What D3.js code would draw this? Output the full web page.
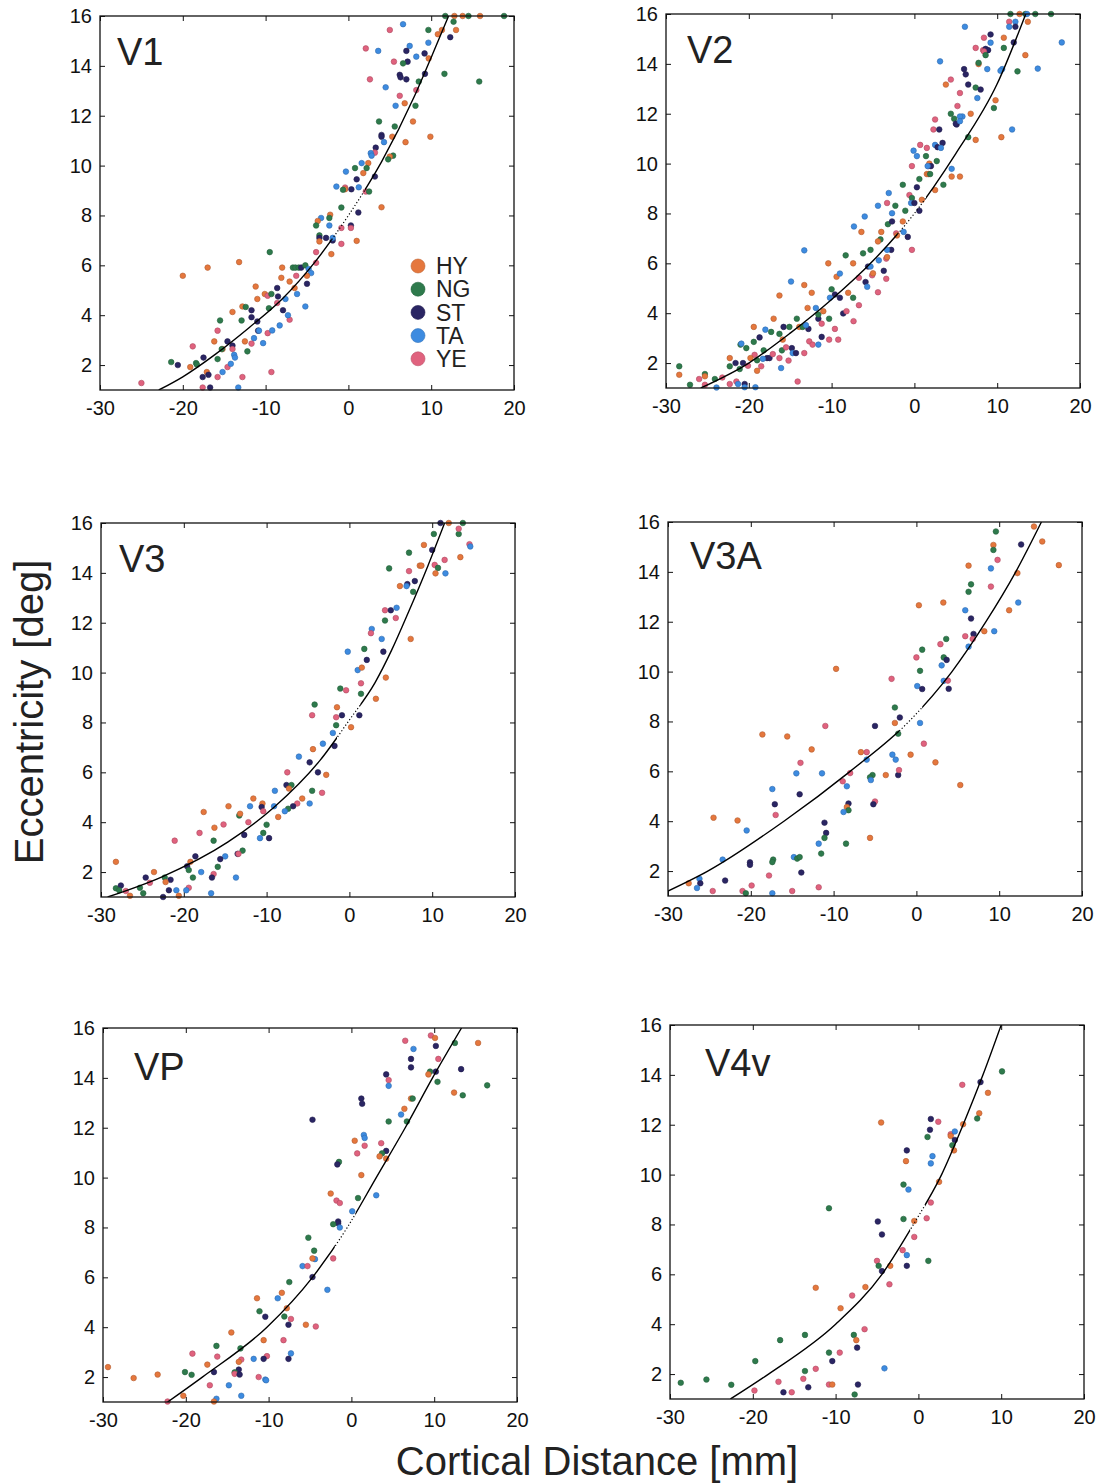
<!DOCTYPE html>
<html>
<head>
<meta charset="utf-8">
<script src="https://cdn.jsdelivr.net/npm/d3@7"></script>
<style>
  html, body { margin: 0; padding: 0; background: #fff; }
  svg { display: block; font-family: "Liberation Sans", Arial, Helvetica, sans-serif; }
</style>
</head>
<body>
<svg id="chart" width="1105" height="1484"></svg>
<script>
// Subjects and their marker colours
const HY = "HY", NG = "NG", ST = "ST", TA = "TA", YE = "YE";
const subjects = [HY, NG, ST, TA, YE];
const subjectColors = ["#e5773d", "#2e7a4c", "#2a2563", "#3d8be0", "#e0627e"];

// Axis ticks shared by every panel
const xTicks = [-30, -20, -10, 0, 10, 20];
const yTicks = [2, 4, 6, 8, 10, 12, 14, 16];
const xDomain = [-30, 20];
const yDomain = [1, 16];

// ---- V1 ----  [cortical distance (mm), eccentricity (deg), subject]
const v1Points = [
  [11.7,16,NG],[12.8,16,HY],[13.8,16,HY],[14.5,16,NG],[15.9,16,HY],[18.8,16,NG],
  [12.7,15.77,NG],[5.0,15.44,YE],[9.66,15.44,NG],[10.8,15.27,HY],[11.3,15.44,HY],[13.0,15.44,HY],[6.6,15.67,TA],
  [12.3,15.15,ST],[9.66,14.93,TA],[2.1,14.7,YE],[3.6,14.6,TA],[7.4,14.8,TA],[7.0,14.6,ST],[9.2,14.5,ST],
  [9.7,14.3,HY],[8.2,14.37,TA],[7.15,14.17,ST],[6.6,14.1,NG],[5.5,14.17,YE],
  [6.2,13.64,ST],[6.3,13.54,ST],[7.0,13.46,ST],[2.6,13.46,YE],[11.6,13.68,NG],[9.25,13.68,ST],[8.5,13.37,NG],
  [15.8,13.37,NG],[4.5,13.14,TA],[8.2,13.03,YE],[6.2,12.8,YE],[6.8,12.5,HY],[8.1,12.4,NG],[5.7,12.4,TA],
  [7.8,11.77,HY],[3.7,11.77,NG],[5.6,11.57,NG],[4.0,11.23,ST],[4.0,11.16,ST],[5.3,11.16,HY],[9.9,11.16,HY],
  [4.3,10.94,TA],[6.9,10.94,HY],[3.3,10.72,ST],[3.2,10.52,YE],[2.7,10.5,TA],[2.8,10.4,TA],[5.4,10.4,NG],
  [5.0,10.36,HY],[4.8,10.25,NG],[2.4,10.1,HY],[1.6,10.1,TA],[0.8,9.9,NG],[1.8,9.7,HY],[2.2,9.9,NG],
  [-0.3,9.76,TA],[3.2,9.56,ST],[1.0,9.45,ST],[-1.45,9.16,TA],[-0.4,9.12,YE],[-0.4,9.05,HY],[-0.65,9.03,NG],
  [1.25,9.13,TA],[0.36,9.05,ST],[2.1,8.96,YE],[2.5,8.96,NG],[4.0,8.33,HY],[-0.85,8.32,NG],[1.2,8.12,ST],
  [-2.2,8.03,HY],[-2.3,7.9,NG],[-3.3,7.9,TA],[-3.7,7.78,HY],[-3.9,7.6,NG],[-2.3,7.6,TA],[-0.85,7.5,YE],
  [0.3,7.6,ST],[0.3,7.5,YE],[1.0,6.98,HY],[-3.5,7.2,NG],[-3.5,7.1,ST],[-2.7,7.1,ST],[-1.9,7.0,ST],[-1.9,7.1,TA],
  [-3.5,6.96,HY],[-0.85,6.86,YE],[-9.5,6.53,NG],[-3.9,6.53,YE],[-2.06,6.45,HY],[-3.9,6.1,YE],[-13.2,6.13,HY],
  [-17.0,5.91,HY],[-20.0,5.58,HY],[-8.0,5.91,HY],[-6.7,5.91,NG],[-6.4,5.91,NG],[-6.0,5.91,NG],[-5.7,5.91,ST],
  [-5.2,6.0,NG],[-4.8,5.85,TA],[-4.5,5.69,TA],[-5.0,5.58,HY],[-6.3,5.58,YE],[-8.1,5.5,HY],[-7.1,5.35,HY],
  [-6.5,5.09,HY],[-5.0,5.26,ST],[-11.2,5.15,HY],[-8.6,5.09,ST],[-6.2,4.85,TA],[-10.1,4.85,HY],[-9.75,4.78,YE],
  [-9.3,4.85,NG],[-8.5,4.75,ST],[-7.6,4.65,TA],[-11.0,4.65,HY],[-8.6,4.49,YE],[-12.8,4.35,HY],[-12.4,4.33,NG],
  [-5.2,4.35,TA],[-9.6,4.28,NG],[-11.7,4.2,ST],[-7.9,4.2,ST],[-14.0,4.13,HY],[-7.1,3.82,YE],[-12.9,3.79,NG],
  [-7.3,4.0,TA],[-11.7,3.92,ST],[-11.0,3.75,ST],[-15.5,3.79,NG],[-8.3,3.59,TA],[-15.8,3.38,YE],[-10.9,3.38,ST],
  [-10.8,3.38,TA],[-9.75,3.28,YE],[-9.2,3.39,TA],[-16.2,2.95,HY],[-12.5,2.95,HY],[-14.6,2.95,ST],[-14.0,2.78,ST],
  [-10.3,2.88,TA],[-11.4,3.08,TA],[-11.7,2.86,YE],[-15.2,2.64,HY],[-15.3,2.64,NG],[-14.0,2.64,YE],[-12.2,2.55,NG],
  [-18.8,2.75,YE],[-15.8,2.24,NG],[-13.8,2.41,TA],[-13.7,2.3,TA],[-17.5,2.3,ST],[-14.6,1.92,YE],[-14.2,2.05,TA],
  [-19.1,1.92,HY],[-18.4,2.08,NG],[-18.3,2.02,NG],[-21.4,2.12,NG],[-20.6,2.0,ST],[-17.1,1.72,HY],[-15.2,1.72,TA],
  [-16.9,1.61,ST],[-17.6,1.52,ST],[-15.8,1.52,YE],[-12.8,1.52,YE],[-9.3,1.72,YE],[-25.0,1.28,YE],[-17.6,1.1,YE],
  [-16.7,1.1,ST],[-13.3,1.1,TA]
];
const v1Fit = [[-22.9,1.0],[-20,1.53],[-16,2.45],[-12,3.5],[-8,4.65],[-4,6.15],[0,8.0],[4,10.15],[8,12.8],[10.2,14.5],[12.1,16]];
const v1Dotted = [-2, 2];

// ---- V2 ----
const v2Points = [
  [11.6,16,NG],[12.7,16,HY],[13.4,16,NG],[13.6,16,TA],[14.6,16,NG],[16.5,16,NG],
  [11.45,15.69,YE],[12.2,15.69,TA],[11.45,15.49,TA],[12.2,15.49,ST],[13.7,15.69,HY],[6.1,15.49,TA],[9.2,15.18,ST],
  [8.4,15.05,YE],[10.8,15.05,HY],[9.2,14.85,TA],[17.8,14.86,TA],[12.0,14.86,ST],[7.4,14.64,YE],[10.8,14.64,NG],
  [8.3,14.55,YE],[8.6,14.6,ST],[8.9,14.55,ST],[8.4,14.5,YE],[8.6,14.35,NG],[13.4,14.35,HY],[3.1,14.1,TA],
  [7.75,13.99,HY],[7.75,14.04,NG],[8.8,13.79,TA],[6.0,13.79,ST],[6.2,13.58,ST],[10.6,13.79,TA],[10.4,13.72,TA],
  [12.45,13.7,NG],[14.9,13.81,TA],[4.4,13.37,YE],[3.8,13.17,HY],[6.5,13.17,ST],[7.4,13.05,NG],[8.0,12.97,ST],
  [5.5,12.83,YE],[7.6,12.63,TA],[9.8,12.54,HY],[5.2,12.31,YE],[9.6,12.23,NG],[2.5,11.77,YE],[6.8,12.0,HY],
  [4.4,12.0,NG],[5.8,11.89,TA],[5.5,11.89,TA],[4.8,11.8,NG],[5.1,11.57,ST],[5.0,11.6,ST],[5.5,11.7,TA],
  [2.3,11.37,YE],[3.0,11.37,ST],[11.8,11.37,TA],[6.5,11.06,NG],[7.4,10.95,HY],[10.5,11.06,HY],[3.4,10.83,ST],
  [2.5,10.75,TA],[2.8,10.66,ST],[3.2,10.63,TA],[0.7,10.75,YE],[-0.1,10.52,TA],[1.5,10.63,YE],[0.3,10.3,TA],
  [1.4,10.3,NG],[1.7,9.9,YE],[1.8,10.0,HY],[2.0,9.9,ST],[-0.3,9.9,YE],[2.7,10.1,NG],[4.5,9.79,TA],[4.5,9.48,HY],
  [5.5,9.48,HY],[3.5,9.15,NG],[0.3,9.05,ST],[-1.4,9.15,NG],[0.6,9.38,NG],[1.5,9.58,HY],[1.7,9.58,HY],[1.6,9.9,TA],
  [1.9,9.58,NG],[2.5,8.94,HY],[-3.1,8.82,TA],[-0.6,8.74,YE],[-0.3,8.62,NG],[0.9,8.55,HY],[-0.4,8.42,TA],
  [0.0,8.42,ST],[-4.4,8.31,TA],[-3.3,8.42,YE],[-2.3,8.31,NG],[-1.1,8.11,NG],[0.6,8.11,ST],[-2.7,8.01,TA],
  [-6.0,7.88,TA],[-7.3,7.48,TA],[-3.2,7.57,NG],[-2.7,7.68,ST],[-1.4,7.68,HY],[-6.4,7.26,HY],[-4.0,7.26,HY],
  [-2.2,7.2,YE],[-2.1,7.12,HY],[-1.3,7.26,TA],[-0.8,7.06,ST],[-4.1,6.96,NG],[-4.4,6.88,HY],[-0.3,6.54,YE],
  [-13.3,6.52,TA],[-2.8,6.54,ST],[-3.3,6.54,TA],[-5.3,6.54,NG],[-6.2,6.4,NG],[-3.4,6.19,YE],[-3.3,6.25,HY],
  [-8.3,6.32,NG],[-7.4,6.0,HY],[-10.4,6.0,HY],[-4.3,6.12,TA],[-5.6,5.87,ST],[-5.3,5.87,TA],[-3.7,5.7,ST],
  [-3.4,5.38,YE],[-5.1,5.52,YE],[-5.0,5.6,HY],[-9.4,5.46,HY],[-9.0,5.59,TA],[-14.9,5.27,TA],[-13.3,5.13,HY],
  [-6.7,5.42,YE],[-5.9,5.25,ST],[-5.7,5.06,TA],[-12.4,4.82,HY],[-10.0,4.96,NG],[-9.6,4.75,ST],[-10.2,4.62,TA],
  [-9.0,4.62,ST],[-8.0,4.82,HY],[-7.4,4.62,NG],[-4.4,4.84,YE],[-16.3,4.71,HY],[-12.9,4.21,HY],[-11.9,4.21,TA],
  [-6.7,4.32,YE],[-8.6,3.99,ST],[-8.2,4.08,YE],[-11.6,3.78,ST],[-11.6,3.95,NG],[-11.0,4.08,HY],[-10.3,3.78,NG],
  [-11.2,3.58,YE],[-14.2,3.78,NG],[-17.0,3.78,HY],[-19.4,3.45,HY],[-18.0,3.34,TA],[-17.3,3.25,NG],[-13.9,3.45,HY],
  [-13.5,3.45,NG],[-15.8,3.45,ST],[-15.1,3.45,NG],[-12.8,3.37,ST],[-13.1,3.52,TA],[-7.35,3.68,YE],[-18.7,3.03,ST],
  [-16.3,3.17,NG],[-9.6,3.37,YE],[-9.2,2.94,YE],[-10.3,2.94,YE],[-11.2,3.05,ST],[-21.0,2.74,NG],[-20.9,2.78,TA],
  [-20.3,2.6,NG],[-19.4,2.85,NG],[-15.9,2.94,HY],[-12.7,2.87,YE],[-12.3,2.74,YE],[-11.6,2.74,TA],[-14.8,2.6,ST],
  [-16.0,2.51,NG],[-15.5,2.63,YE],[-14.7,2.4,TA],[-14.3,2.4,ST],[-13.3,2.4,YE],[-18.2,2.51,NG],[-19.3,2.33,YE],
  [-17.8,2.2,ST],[-17.5,2.2,ST],[-18.3,2.17,TA],[-17.1,2.36,YE],[-21.6,2.0,ST],[-20.7,2.0,ST],[-19.8,2.2,HY],
  [-19.0,2.11,NG],[-22.3,2.2,HY],[-22.3,1.87,NG],[-20.1,1.89,YE],[-18.5,1.87,YE],[-21.1,1.76,NG],[-19.0,1.69,HY],
  [-16.3,2.2,YE],[-15.2,2.1,YE],[-16.1,1.8,TA],[-28.4,1.87,NG],[-28.4,1.53,HY],[-25.3,1.56,NG],[-25.3,1.47,HY],
  [-26.0,1.36,YE],[-24.1,1.36,NG],[-23.2,1.42,YE],[-27.1,1.13,NG],[-25.3,1.13,YE],[-22.3,1.16,YE],[-21.5,1.26,YE],
  [-21.3,1.16,TA],[-20.5,1.16,ST],[-20.5,1.03,TA],[-19.2,1.03,TA],[-23.9,1.02,TA],[-14.1,1.26,YE]
];
const v2Fit = [[-25.8,1.0],[-20,2.0],[-15,3.2],[-10,4.55],[-5,6.1],[0,8.0],[5,10.4],[10,13.2],[13.45,16]];
const v2Dotted = [-2, 1.4];

// ---- V3 ----
const v3Points = [
  [11.0,16,ST],[12.0,16,HY],[13.7,16,NG],[10.2,15.56,NG],[13.2,15.56,NG],[13.2,15.77,YE],[9.0,15.12,HY],
  [10.0,14.92,ST],[14.5,15.15,YE],[14.6,15.06,TA],[7.2,14.81,NG],[11.5,14.52,YE],[13.4,14.63,HY],[4.8,14.18,NG],
  [10.3,14.32,YE],[10.7,14.2,NG],[7.2,14.07,YE],[8.5,14.29,HY],[8.7,14.29,HY],[10.4,13.98,HY],[11.6,13.98,TA],
  [7.9,13.67,ST],[7.0,13.55,ST],[6.9,13.47,TA],[6.1,13.47,HY],[7.7,13.24,NG],[4.3,12.5,YE],[5.0,12.5,ST],
  [5.7,12.6,TA],[5.6,12.19,YE],[4.3,12.09,NG],[2.7,11.75,TA],[2.6,11.58,YE],[7.4,11.35,HY],[3.9,11.35,TA],
  [4.1,10.84,ST],[1.8,10.95,NG],[-0.2,10.84,TA],[2.1,10.51,ST],[1.0,10.1,TA],[1.5,10.2,HY],[4.4,9.8,HY],
  [1.4,9.57,YE],[-1.1,9.36,NG],[-0.4,9.29,YE],[1.4,9.15,NG],[3.2,8.95,HY],[-4.2,8.72,NG],[-1.5,8.61,HY],
  [-0.9,8.29,ST],[-1.6,8.21,YE],[1.2,8.29,ST],[-4.5,8.29,YE],[-1.6,7.89,NG],[0.2,7.81,HY],[-2.0,7.58,TA],
  [-3.2,7.15,TA],[-1.8,7.06,ST],[-4.4,6.93,HY],[-6.1,6.63,TA],[-4.8,6.4,ST],[-7.5,6.0,YE],[-3.8,6.0,ST],
  [-2.8,5.9,HY],[-7.6,5.49,ST],[-7.0,5.49,NG],[-7.3,5.35,HY],[-9.0,5.26,TA],[-4.5,5.26,NG],[-3.3,5.18,YE],
  [-11.6,4.95,HY],[-5.7,4.95,HY],[-6.3,4.75,YE],[-6.8,4.64,ST],[-4.8,4.75,TA],[-10.5,4.75,HY],[-10.6,4.61,ST],
  [-12.0,4.64,TA],[-14.6,4.64,HY],[-9.1,4.64,TA],[-10.4,4.44,YE],[-7.4,4.54,NG],[-7.8,4.44,TA],[-17.6,4.41,HY],
  [-8.6,4.21,HY],[-13.3,4.27,NG],[-13.2,4.34,HY],[-12.2,4.0,YE],[-15.2,3.91,YE],[-10.0,3.9,NG],[-16.3,3.78,HY],
  [-18.1,3.57,YE],[-10.4,3.57,NG],[-12.7,3.49,ST],[-9.7,3.36,ST],[-10.8,3.36,TA],[-21.1,3.26,YE],[-16.4,3.26,NG],
  [-12.9,2.86,NG],[-13.5,2.73,ST],[-13.4,2.73,YE],[-15.0,2.63,TA],[-15.6,2.52,ST],[-18.6,2.63,ST],[-15.9,2.21,NG],
  [-28.2,2.41,HY],[-19.2,2.41,HY],[-19.6,2.23,ST],[-19.4,2.08,NG],[-23.6,2.0,HY],[-17.9,2.0,TA],[-16.4,1.92,YE],
  [-18.9,1.78,NG],[-16.6,1.78,ST],[-22.3,1.78,NG],[-21.6,1.69,ST],[-24.6,1.78,ST],[-13.7,1.78,TA],[-24.1,1.57,YE],
  [-25.3,1.37,NG],[-19.4,1.37,YE],[-22.2,1.6,HY],[-28.2,1.35,NG],[-27.6,1.46,ST],[-27.8,1.27,NG],[-27.0,1.24,YE],
  [-20.9,1.27,TA],[-19.7,1.27,TA],[-21.8,1.27,ST],[-24.9,1.15,NG],[-26.5,1.05,HY],[-20.6,1.05,HY],[-16.7,1.15,TA],
  [-22.5,1.0,ST]
];
const v3Fit = [[-29.2,1.0],[-22.7,1.8],[-14.7,3.2],[-9.1,4.6],[-3.5,6.5],[0,8.1],[3.1,9.6],[5.1,10.9],[7.1,12.4],[9.5,14.3],[11.5,16]];
const v3Dotted = [-1.5, 1.3];

// ---- V3A ----
const v3aPoints = [
  [14.2,15.82,HY],[9.6,15.62,NG],[15.2,15.22,HY],[9.3,15.08,HY],[9.3,14.88,NG],[12.65,15.1,ST],[9.8,14.48,YE],
  [6.3,14.25,HY],[9.0,14.14,TA],[17.2,14.27,HY],[12.2,13.95,HY],[9.0,13.41,YE],[6.6,13.5,NG],[6.3,13.2,NG],
  [0.3,12.66,HY],[3.25,12.77,HY],[12.3,12.77,TA],[5.9,12.46,TA],[11.2,12.46,HY],[6.6,12.13,ST],[9.4,11.62,TA],
  [8.2,11.62,HY],[6.9,11.51,ST],[5.9,11.42,YE],[6.8,11.31,YE],[3.6,11.31,NG],[2.9,11.1,YE],[6.3,11.0,TA],
  [0.7,10.88,NG],[3.3,10.57,NG],[3.65,10.47,ST],[0.0,10.57,YE],[-9.7,10.11,HY],[0.44,10.03,NG],[3.05,10.25,TA],
  [-3.0,9.71,YE],[3.3,9.63,TA],[3.8,9.64,YE],[0.1,9.42,TA],[0.7,9.3,ST],[3.9,9.31,ST],[-2.6,8.56,NG],
  [-2.0,8.16,ST],[-2.6,7.94,HY],[0.44,7.94,TA],[-5.0,7.82,ST],[-11.0,7.82,YE],[-18.6,7.48,HY],[-15.6,7.4,HY],
  [-2.2,7.51,NG],[-12.65,6.88,HY],[-6.7,6.77,HY],[-6.0,6.77,YE],[0.9,7.11,YE],[-0.7,6.67,HY],[-2.9,6.67,TA],
  [-6.0,6.47,TA],[-2.5,6.47,TA],[2.3,6.36,HY],[-14.0,6.34,YE],[-14.5,5.92,TA],[-11.4,5.92,TA],[-8.0,5.93,YE],
  [-3.7,5.85,HY],[-2.2,5.85,ST],[-2.1,6.05,YE],[-5.3,5.85,NG],[-5.6,5.76,NG],[-5.5,5.65,TA],[-8.9,5.6,YE],
  [5.3,5.45,HY],[-8.4,5.4,TA],[-17.4,5.29,TA],[-14.1,5.08,ST],[-17.1,4.68,ST],[-8.2,4.71,ST],[-8.4,4.57,HY],
  [-8.2,4.44,NG],[-5.0,4.79,YE],[-5.2,4.68,ST],[-8.8,4.37,TA],[-17.0,4.25,YE],[-24.5,4.14,HY],[-21.6,4.03,HY],
  [-11.1,3.94,ST],[-20.5,3.63,TA],[-10.9,3.53,ST],[-11.1,3.33,NG],[-5.6,3.33,HY],[-11.8,3.1,TA],[-8.5,3.1,NG],
  [-11.5,2.7,NG],[-14.8,2.56,TA],[-14.4,2.5,NG],[-14.1,2.56,NG],[-17.3,2.46,NG],[-17.4,2.36,NG],[-23.4,2.46,TA],
  [-20.1,2.35,ST],[-20.1,2.25,ST],[-13.9,1.94,ST],[-17.8,1.82,YE],[-23.1,1.62,ST],[-26.2,1.69,TA],[-26.1,1.51,ST],
  [-19.9,1.42,YE],[-27.5,1.51,HY],[-26.5,1.32,TA],[-11.8,1.35,YE],[-24.6,1.2,YE],[-21.0,1.2,YE],[-15.0,1.2,YE],
  [-20.6,1.11,NG],[-17.4,1.11,TA]
];
const v3aFit = [[-30,1.2],[-25.2,2.0],[-16,4.0],[-8,6.0],[-0.9,8.0],[4.3,10.0],[8.4,12.0],[12.0,14.0],[15.1,16]];
const v3aDotted = [-2.1, 0.7];

// ---- VP ----
const vpPoints = [
  [9.6,15.7,YE],[10.1,15.6,HY],[12.5,15.4,NG],[15.3,15.4,HY],[6.5,15.49,YE],[10.2,15.28,ST],[7.5,15.16,TA],
  [7.2,14.76,ST],[10.5,14.76,YE],[7.2,14.42,ST],[13.25,14.35,ST],[9.5,14.25,NG],[9.3,14.14,HY],[10.2,14.25,ST],
  [4.2,14.14,ST],[4.5,13.91,YE],[10.4,13.84,NG],[4.5,13.68,TA],[16.4,13.7,NG],[12.4,13.41,HY],[13.45,13.3,NG],
  [1.2,13.17,ST],[1.3,12.96,ST],[7.2,13.17,HY],[7.4,13.17,NG],[6.4,12.76,HY],[6.0,12.53,TA],[-4.7,12.32,ST],
  [4.5,12.25,NG],[6.7,12.25,NG],[0.4,11.48,HY],[1.5,11.71,TA],[1.6,11.59,TA],[3.6,11.38,YE],[1.6,11.28,YE],
  [4.2,11.07,ST],[0.7,10.97,YE],[3.7,10.97,NG],[3.4,10.85,HY],[4.2,10.76,HY],[-1.5,10.63,NG],[-1.7,10.53,ST],
  [1.2,10.1,HY],[-2.5,9.36,HY],[-1.8,9.08,YE],[-1.4,8.98,YE],[0.8,9.18,NG],[3.0,9.29,TA],[0.1,8.65,TA],
  [-1.6,8.24,ST],[-1.6,8.17,ST],[-2.2,8.13,NG],[-1.4,8.0,TA],[-5.2,7.59,NG],[-4.5,7.07,NG],[-4.4,6.73,TA],
  [-4.7,6.76,HY],[-2.2,6.76,YE],[-5.9,6.45,TA],[-5.3,6.45,YE],[-4.7,6.01,ST],[-7.5,5.81,NG],[-2.9,5.5,TA],
  [-8.4,5.38,HY],[-11.4,5.16,HY],[-8.9,5.16,TA],[-7.8,4.76,HY],[-11.1,4.64,NG],[-10.4,4.42,ST],[-8.1,4.43,NG],
  [-7.3,4.33,YE],[-5.5,4.1,HY],[-4.3,4.03,YE],[-7.6,4.1,ST],[-14.5,3.79,HY],[-8.2,3.48,YE],[-10.6,3.48,HY],
  [-16.3,3.25,NG],[-13.4,3.15,NG],[-7.3,2.95,TA],[-19.2,2.94,YE],[-16.2,2.82,YE],[-10.2,2.84,YE],[-10.6,2.73,ST],
  [-11.8,2.73,TA],[-7.6,2.73,ST],[-13.3,2.7,YE],[-13.6,2.61,HY],[-17.4,2.5,HY],[-20.1,2.2,NG],[-19.3,2.09,NG],
  [-16.6,2.2,ST],[-13.6,2.3,ST],[-14.1,2.19,NG],[-14.1,2.13,YE],[-13.5,2.1,ST],[-23.4,2.1,HY],[-26.3,1.96,HY],
  [-29.4,2.4,HY],[-17.1,1.67,YE],[-14.8,1.67,TA],[-11.2,2.0,YE],[-10.4,1.9,TA],[-10.3,1.87,TA],[-20.3,1.25,HY],
  [-13.3,1.25,TA],[-16.3,1.13,TA],[-16.6,1.02,HY],[-22.2,1.02,YE]
];
const vpFit = [[-22.2,1.0],[-18,2.0],[-10.2,4.0],[-4.7,6.0],[-0.5,8.0],[3.0,10.0],[6.5,12.0],[9.8,14.0],[13.3,16]];
const vpDotted = [-2, 0.5];

// ---- V4v ----
const v4vPoints = [
  [10.1,14.14,NG],[5.3,13.6,YE],[7.5,13.71,ST],[8.4,13.28,HY],[-4.5,12.09,HY],[1.5,12.23,ST],[2.4,12.12,YE],
  [7.35,12.46,HY],[7.1,12.25,NG],[5.4,12.02,HY],[1.4,11.8,ST],[1.1,11.51,NG],[3.9,11.62,YE],[3.9,11.55,HY],
  [4.4,11.73,TA],[4.4,11.39,ST],[4.1,11.18,NG],[4.3,10.97,HY],[-1.4,10.97,ST],[1.7,10.74,TA],[-1.5,10.54,HY],
  [1.5,10.45,TA],[2.5,9.71,HY],[-1.8,9.6,NG],[-1.2,9.4,TA],[-10.8,8.65,NG],[1.5,8.88,YE],[-1.8,8.22,NG],
  [1.0,8.25,YE],[-0.5,8.14,HY],[-4.9,8.12,ST],[-4.4,7.6,ST],[-0.5,7.5,YE],[-1.9,6.97,YE],[-1.4,6.77,TA],
  [-5.0,6.54,YE],[1.2,6.54,NG],[-4.8,6.34,NG],[-1.4,6.34,ST],[-3.4,6.34,HY],[-4.4,6.13,ST],[-3.5,5.6,YE],
  [-12.4,5.46,HY],[-6.4,5.49,HY],[-8.0,5.15,YE],[-9.4,4.64,HY],[-6.5,3.8,YE],[-13.7,3.57,NG],[-16.7,3.36,NG],
  [-7.8,3.57,NG],[-7.5,3.36,HY],[-7.4,3.06,ST],[-10.8,2.86,NG],[-9.5,2.86,YE],[-10.4,2.52,ST],[-19.7,2.52,NG],
  [-4.1,2.23,TA],[-12.4,2.21,YE],[-13.7,2.12,NG],[-13.9,1.81,YE],[-25.6,1.78,NG],[-28.7,1.65,NG],[-22.6,1.57,NG],
  [-16.9,1.69,YE],[-10.8,1.58,YE],[-10.4,1.58,HY],[-7.3,1.58,ST],[-13.3,1.47,ST],[-19.8,1.34,YE],[-16.3,1.27,ST],
  [-15.3,1.27,YE],[-7.7,1.18,NG]
];
const v4vFit = [[-22.7,1.0],[-18.1,2.0],[-10.0,4.0],[-4.4,6.0],[-0.6,8.0],[2.8,10.0],[5.4,12.0],[7.8,14.0],[10.0,16]];
const v4vDotted = [-1, 0.8];

// Panel layout: top-left corner of each plot box, and the inset of the area label
const panelW = 414, panelH = 374;
const panels = [
  { name: "V1",  points: v1Points,  fit: v1Fit,  dotted: v1Dotted,  origin: [100, 16],   labelAt: [17, 49], legend: true },
  { name: "V2",  points: v2Points,  fit: v2Fit,  dotted: v2Dotted,  origin: [666, 14],   labelAt: [21, 49] },
  { name: "V3",  points: v3Points,  fit: v3Fit,  dotted: v3Dotted,  origin: [101, 523],  labelAt: [18, 49] },
  { name: "V3A", points: v3aPoints, fit: v3aFit, dotted: v3aDotted, origin: [668, 522],  labelAt: [22, 47] },
  { name: "VP",  points: vpPoints,  fit: vpFit,  dotted: vpDotted,  origin: [103, 1028], labelAt: [31, 52] },
  { name: "V4v", points: v4vPoints, fit: v4vFit, dotted: v4vDotted, origin: [670, 1025], labelAt: [35, 51] }
];

const svg = d3.select("#chart");
const color = d3.scaleOrdinal().domain(subjects).range(subjectColors);
const x = d3.scaleLinear().domain(xDomain).range([0, panelW]);
const y = d3.scaleLinear().domain(yDomain).range([panelH, 0]);
const tickFmt = d => String(d);

panels.forEach((p, i) => {
  const g = svg.append("g").attr("transform", `translate(${p.origin[0]},${p.origin[1]})`);

  // clip regions for the solid and dotted parts of the fitted curve
  const [d0, d1] = p.dotted;
  const defs = g.append("defs");
  defs.append("clipPath").attr("id", `solid-${i}`).call(c => {
    c.append("rect").attr("x", 0).attr("y", 0).attr("width", x(d0)).attr("height", panelH);
    c.append("rect").attr("x", x(d1)).attr("y", 0).attr("width", panelW - x(d1)).attr("height", panelH);
  });
  defs.append("clipPath").attr("id", `dotted-${i}`)
    .append("rect").attr("x", x(d0)).attr("y", 0).attr("width", x(d1) - x(d0)).attr("height", panelH);

  // axes with inward ticks on all four sides
  const styleAxis = a => {
    a.select(".domain").remove();
    a.selectAll("line").attr("stroke", "#111").attr("stroke-width", 1);
    a.selectAll("text").attr("fill", "#111").style("font-size", "20px")
      .style("font-family", '"Liberation Sans", Arial, Helvetica, sans-serif');
  };
  g.append("g").call(d3.axisLeft(y).tickValues(yTicks).tickSizeInner(-5).tickSizeOuter(0).tickPadding(8).tickFormat(tickFmt)).call(styleAxis);
  g.append("g").attr("transform", `translate(0,${panelH})`)
    .call(d3.axisBottom(x).tickValues(xTicks).tickSizeInner(-5).tickSizeOuter(0).tickPadding(11).tickFormat(tickFmt)).call(styleAxis);
  g.append("g").call(d3.axisTop(x).tickValues(xTicks).tickSizeInner(-5).tickSizeOuter(0).tickFormat("")).call(styleAxis);
  g.append("g").attr("transform", `translate(${panelW},0)`)
    .call(d3.axisRight(y).tickValues(yTicks).tickSizeInner(-5).tickSizeOuter(0).tickFormat("")).call(styleAxis);

  // subject markers
  g.append("g").selectAll("circle").data(p.points).join("circle")
    .attr("cx", d => x(d[0])).attr("cy", d => y(d[1])).attr("r", 2.8)
    .attr("fill", d => color(d[2]))
    .attr("stroke", d => d3.color(color(d[2])).darker(0.7))
    .attr("stroke-width", 0.6);

  // fitted eccentricity curve: solid, with a dotted stretch near the origin
  const line = d3.line().x(d => x(d[0])).y(d => y(d[1])).curve(d3.curveMonotoneX);
  g.append("path").datum(p.fit).attr("d", line)
    .attr("fill", "none").attr("stroke", "#000").attr("stroke-width", 1.4)
    .attr("clip-path", `url(#solid-${i})`);
  g.append("path").datum(p.fit).attr("d", line)
    .attr("fill", "none").attr("stroke", "#000").attr("stroke-width", 1.2)
    .attr("stroke-dasharray", "1.2,2.2")
    .attr("clip-path", `url(#dotted-${i})`);

  // plot frame
  g.append("rect").attr("width", panelW).attr("height", panelH)
    .attr("fill", "none").attr("stroke", "#111").attr("stroke-width", 1.3);

  // area label
  g.append("text").attr("x", p.labelAt[0]).attr("y", p.labelAt[1])
    .style("font-size", "38px").attr("fill", "#222").text(p.name);

  if (p.legend) {
    const lg = g.append("g").attr("transform", "translate(318,250)");
    subjects.forEach((s, k) => {
      const row = lg.append("g").attr("transform", `translate(0,${k * 23.2})`);
      row.append("circle").attr("r", 7).attr("fill", color(s))
        .attr("stroke", d3.color(color(s)).darker(0.5)).attr("stroke-width", 0.6);
      row.append("text").attr("x", 18).attr("dy", "0.36em")
        .style("font-size", "23px").attr("fill", "#222").text(s);
    });
  }
});

// shared axis titles
svg.append("text")
  .attr("transform", "translate(43,712) rotate(-90)")
  .attr("text-anchor", "middle")
  .style("font-size", "40px").attr("fill", "#222")
  .text("Eccentricity [deg]");
svg.append("text")
  .attr("x", 597).attr("y", 1475)
  .attr("text-anchor", "middle")
  .style("font-size", "40px").attr("fill", "#222")
  .text("Cortical Distance [mm]");
</script>
</body>
</html>
